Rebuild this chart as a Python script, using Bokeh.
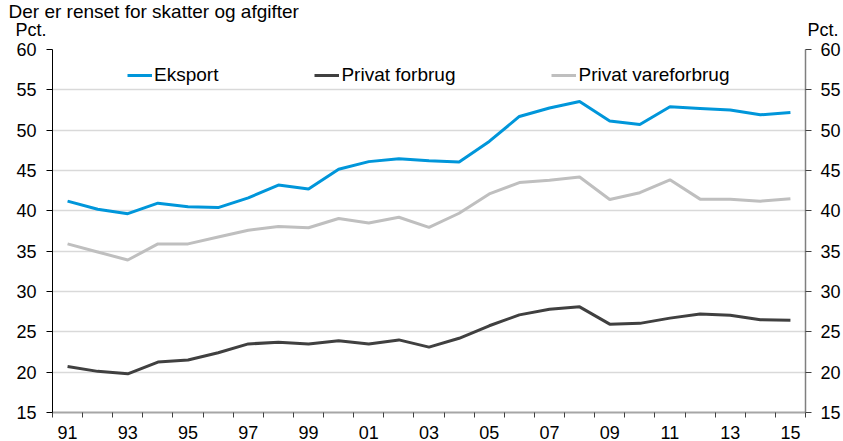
from bokeh.plotting import figure
from bokeh.layouts import column
from bokeh.models import (Range1d, LinearAxis, FixedTicker, Label, Legend, LegendItem)
from bokeh.embed import file_html
from bokeh.resources import INLINE

years = [1991, 1992, 1993, 1994, 1995, 1996, 1997, 1998, 1999, 2000, 2001, 2002, 2003,
         2004, 2005, 2006, 2007, 2008, 2009, 2010, 2011, 2012, 2013, 2014, 2015]
eksport = [41.2, 40.2, 39.65, 40.95, 40.5, 40.4, 41.6, 43.2, 42.7, 45.15, 46.1, 46.45, 46.2,
           46.05, 48.6, 51.7, 52.75, 53.55, 51.15, 50.7, 52.9, 52.7, 52.5, 51.9, 52.2]
privat_forbrug = [20.7, 20.1, 19.8, 21.25, 21.5, 22.4, 23.5, 23.7, 23.5, 23.9, 23.5, 24.0, 23.1,
                  24.2, 25.75, 27.1, 27.8, 28.1, 25.95, 26.05, 26.7, 27.2, 27.05, 26.5, 26.45]
privat_vareforbrug = [35.9, 34.9, 33.9, 35.9, 35.9, 36.75, 37.6, 38.05, 37.9, 39.05, 38.5, 39.2, 37.95,
                      39.7, 42.1, 43.5, 43.8, 44.2, 41.4, 42.25, 43.85, 41.45, 41.45, 41.2, 41.5]
series_names = ["Eksport", "Privat forbrug", "Privat vareforbrug"]
series_colors = ["#0096DA", "#404040", "#BFBFBF"]
x_label_years = [1991, 1993, 1995, 1997, 1999, 2001, 2003, 2005, 2007, 2009, 2011, 2013, 2015]
x_tick_labels = ["91", "93", "95", "97", "99", "01", "03", "05", "07", "09", "11", "13", "15"]
x_boundaries = [y - 0.5 for y in years] + [years[-1] + 0.5]
y_ticks = [15, 20, 25, 30, 35, 40, 45, 50, 55, 60]
title_text = "Der er renset for skatter og afgifter"
unit_text = "Pct."

FONT = "Liberation Sans"
W = 843
H_HEAD = 40
H_MAIN = 401

# ---- header with title and unit labels ----
head = figure(width=W, height=H_HEAD, output_backend="svg", toolbar_location=None,
              x_range=Range1d(0, W), y_range=Range1d(0, H_HEAD),
              min_border_left=0, min_border_right=0, min_border_top=0, min_border_bottom=0,
              x_axis_location=None, y_axis_location=None)
head.frame_align = False
head.outline_line_color = None
head.xgrid.visible = False
head.ygrid.visible = False
head.add_layout(Label(x=8, y=H_HEAD, x_units="screen", y_units="screen", text=title_text,
                      text_font=FONT, text_font_size="19px", text_baseline="top",
                      text_align="left", text_color="black"))
head.add_layout(Label(x=15, y=H_HEAD - 19, x_units="screen", y_units="screen", text=unit_text,
                      text_font=FONT, text_font_size="18px", text_baseline="top",
                      text_align="left", text_color="black"))
head.add_layout(Label(x=807, y=H_HEAD - 19, x_units="screen", y_units="screen", text=unit_text,
                      text_font=FONT, text_font_size="18px", text_baseline="top",
                      text_align="left", text_color="black"))

# ---- main chart ----
p = figure(width=W, height=H_MAIN, output_backend="svg", toolbar_location=None,
           x_range=Range1d(years[0] - 0.5, years[-1] + 0.5), y_range=Range1d(15, 60),
           min_border_left=52, min_border_right=37, min_border_top=9, min_border_bottom=29,
           x_axis_location=None, y_axis_location=None)
p.frame_align = False
p.outline_line_color = None
p.background_fill_color = "white"
p.border_fill_color = "white"

p.xgrid.visible = False
p.ygrid.ticker = FixedTicker(ticks=y_ticks)
p.ygrid.grid_line_color = "#D9D9D9"
p.ygrid.grid_line_width = 1.5

renderers = []
for vals, col in zip([eksport, privat_forbrug, privat_vareforbrug], series_colors):
    r = p.line(years, vals, line_color=col, line_width=3)
    renderers.append(r)

# x axis
xaxis = LinearAxis(ticker=FixedTicker(ticks=x_label_years, minor_ticks=x_boundaries))
xaxis.major_label_overrides = {yr: lab for yr, lab in zip(x_label_years, x_tick_labels)}
xaxis.axis_line_color = "#A6A6A6"
xaxis.axis_line_width = 2
xaxis.major_tick_out = 0
xaxis.major_tick_in = 0
xaxis.minor_tick_out = 5
xaxis.minor_tick_in = 0
xaxis.minor_tick_line_color = "#404040"
xaxis.major_label_standoff = 8
xaxis.major_label_text_font = FONT
xaxis.major_label_text_font_size = "18px"
xaxis.major_label_text_color = "black"
p.add_layout(xaxis, "below")

# left axis
yl = LinearAxis(ticker=FixedTicker(ticks=y_ticks))
yl.axis_line_color = "black"
yl.axis_line_width = 1
yl.major_tick_out = 6
yl.major_tick_in = 0
yl.major_tick_line_color = "black"
yl.minor_tick_out = 0
yl.minor_tick_in = 0
yl.major_label_standoff = 10
yl.major_label_text_font = FONT
yl.major_label_text_font_size = "18px"
yl.major_label_text_color = "black"
p.add_layout(yl, "left")

# right axis
p.extra_y_ranges = {"right": Range1d(15, 60)}
yr = LinearAxis(y_range_name="right", ticker=FixedTicker(ticks=y_ticks))
yr.axis_line_color = "#7F7F7F"
yr.axis_line_width = 1.5
yr.major_tick_out = 6
yr.major_tick_in = 0
yr.major_tick_line_color = "#404040"
yr.minor_tick_out = 0
yr.minor_tick_in = 0
yr.major_label_standoff = 9
yr.major_label_text_font = FONT
yr.major_label_text_font_size = "18px"
yr.major_label_text_color = "black"
p.add_layout(yr, "right")

# legend
legend = Legend(items=[LegendItem(label=n, renderers=[r]) for n, r in zip(series_names, renderers)],
                orientation="horizontal", location=(75, 326),
                spacing=96, glyph_width=25, glyph_height=22, label_height=22,
                label_standoff=2, padding=0, margin=0,
                border_line_color=None, background_fill_alpha=0,
                label_text_font=FONT, label_text_font_size="19px", label_text_color="black")
p.add_layout(legend, "center")

layout = column(head, p, spacing=0)
open("out.html", "w").write(file_html(layout, INLINE))
